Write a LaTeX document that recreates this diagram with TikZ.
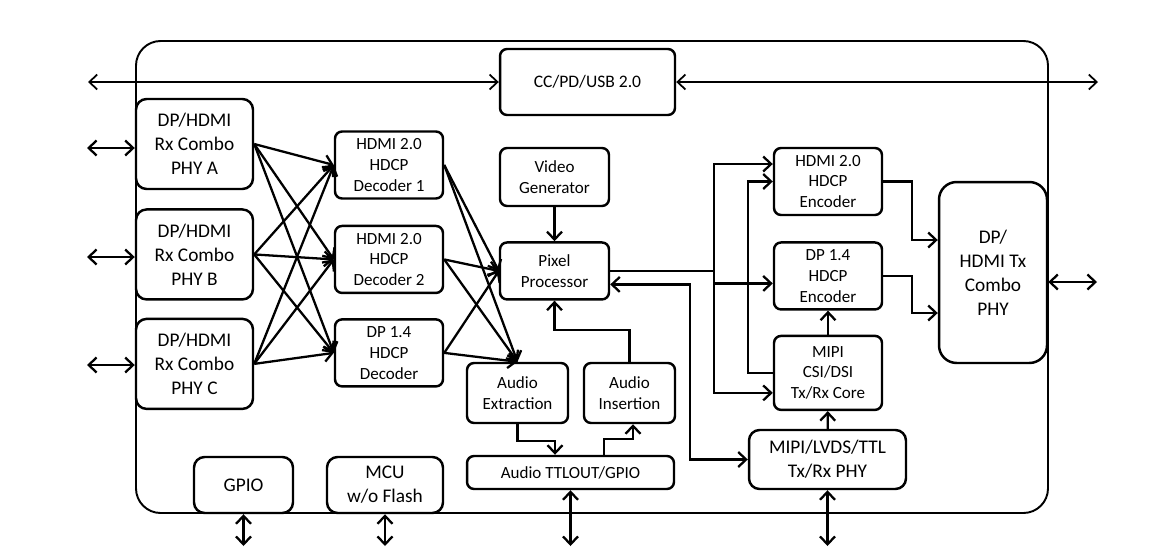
\documentclass[tikz,border=0pt]{standalone}
\usepackage{fontspec}
\setmainfont{Carlito}
\usetikzlibrary{arrows.meta,positioning,calc}

\begin{document}
\begin{tikzpicture}[x=0.02cm,y=-0.02cm,blk/.style={draw,line width=1.4pt,rounded corners=4pt,align=center,inner sep=1pt,font=\fontsize{9.7}{11.9}\selectfont},bigblk/.style={blk,rounded corners=6pt,font=\fontsize{11}{13.6}\selectfont},arr/.style={-{Straight Barb[length=4.5pt,width=8.5pt]},line width=1.3pt},dbl/.style={{Straight Barb[length=4.5pt,width=8.5pt]}-{Straight Barb[length=4.5pt,width=8.5pt]},line width=1.3pt}]
\useasboundingbox (0,0) rectangle (1163,548);
\draw[line width=1.1pt,rounded corners=14pt] (136,41) rectangle (1048,513);
\node[blk,minimum width=3.5cm,minimum height=1.32cm,font=\fontsize{10}{12}\selectfont] (cc) at (587.5,82) {CC/PD/USB 2.0};
\node[bigblk,minimum width=2.34cm,minimum height=1.8cm] (phya) at (194.5,144) {DP/HDMI\\Rx Combo\\PHY A};
\node[bigblk,minimum width=2.34cm,minimum height=1.8cm,below=0.36cm of phya] (phyb) {DP/HDMI\\Rx Combo\\PHY B};
\node[bigblk,minimum width=2.34cm,minimum height=1.8cm,below=0.34cm of phyb] (phyc) {DP/HDMI\\Rx Combo\\PHY C};
\node[blk,minimum width=2.16cm,minimum height=1.34cm] (dec1) at (389,165) {HDMI 2.0\\HDCP\\Decoder 1};
\node[blk,minimum width=2.16cm,minimum height=1.34cm,below=0.5cm of dec1] (dec2) {HDMI 2.0\\HDCP\\Decoder 2};
\node[blk,minimum width=2.16cm,minimum height=1.34cm,below=0.48cm of dec2] (dec3) {DP 1.4\\HDCP\\Decoder};
\node[blk,minimum width=2.18cm,minimum height=1.16cm] (vgen) at (554.5,177) {Video\\Generator};
\node[blk,minimum width=2.18cm,minimum height=1.14cm,below=0.68cm of vgen] (pix) {Pixel\\Processor};
\node[blk,minimum width=2.02cm,minimum height=1.2cm] (aext) at (517.5,393) {Audio\\Extraction};
\node[blk,minimum width=1.82cm,minimum height=1.2cm] (ains) at (629.5,393) {Audio\\Insertion};
\node[blk,minimum width=4.14cm,minimum height=0.66cm] (attl) at (570.5,472.5) {Audio TTLOUT/GPIO};
\node[bigblk,minimum width=1.98cm,minimum height=1.12cm] (gpio) at (243.5,485) {GPIO};
\node[bigblk,minimum width=2.32cm,minimum height=1.12cm] (mcu) at (385,485) {MCU\\w/o Flash};
\node[blk,minimum width=2.16cm,minimum height=1.34cm] (henc) at (828,181.5) {HDMI 2.0\\HDCP\\Encoder};
\node[blk,minimum width=2.16cm,minimum height=1.34cm,below=0.5cm of henc] (denc) {DP 1.4\\HDCP\\Encoder};
\node[blk,minimum width=2.16cm,minimum height=1.48cm,below=0.48cm of denc] (mcore) {MIPI\\CSI/DSI\\Tx/Rx Core};
\node[bigblk,minimum width=3.14cm,minimum height=1.18cm] (lphy) at (827.5,459.5) {MIPI/LVDS/TTL\\Tx/Rx PHY};
\node[bigblk,rounded corners=10pt,minimum width=2.16cm,minimum height=3.62cm] (txphy) at (993,272.5) {DP/\\HDMI Tx\\Combo\\PHY};
\coordinate (usbl) at (88,82);
\coordinate (usbr) at (1098,82);
\coordinate (txo) at (1097,282);
\coordinate (bot) at (0,546);
\draw[dbl,line width=1pt] (usbl)--(cc);
\draw[dbl,line width=1pt] (cc)--(usbr);
\foreach \p/\y in {a/148,b/257,c/365} {
  \coordinate (in\p) at (87,\y);
  \draw[dbl] (in\p)--(in\p -| phy\p.west);
}
\foreach \p in {phya,phyb,phyc}
  \foreach \d in {dec1,dec2,dec3}
    \draw[arr] (\p.east)--(\d.west);
\foreach \d in {dec1,dec2,dec3} {
  \draw[arr] (\d.east)--(pix.west);
  \draw[arr] (\d.east)--(aext.north);
}
\draw[arr] (vgen)--(pix);
\draw[arr] (ains.north)--++(0,-32)-|(pix.south);
\draw[arr] (aext.south)--++(0,17)-|($(attl.north)+(-15.5,0)$);
\draw[arr] ($(attl.north)+(33.5,0)$)--++(0,-16)-|($(ains.south)+(3.5,0)$);
\foreach \n in {gpio,mcu,attl,lphy}
  \draw[dbl] (\n.south)--(\n.south |- bot);
\draw[dbl] (txo -| txphy.east)--(txo);
\coordinate (split) at ($(pix.east)+(104,0)$);
\draw[line width=1.3pt] (pix.east)--(split);
\draw[arr] (split)|-($(henc.west)+(0,-17.5)$);
\draw[arr] (split)|-($(denc.west)+(0,7.5)$);
\draw[arr] (split)|-($(mcore.west)+(0,20)$);
\draw[arr] (mcore.west)--++(-25,0)|-(henc.west);
\draw[arr] (mcore)--(denc);
\draw[arr] (lphy)--(mcore);
\draw[dbl] ($(pix.east)+(0,13.5)$)--++(80,0)|-(lphy.west);
\draw[arr] (henc.east)--++(29,0)|-($(txphy.west)+(0,-32.5)$);
\draw[arr] (denc.east)--++(29,0)|-($(txphy.west)+(0,40.5)$);
\end{tikzpicture}
\end{document}
